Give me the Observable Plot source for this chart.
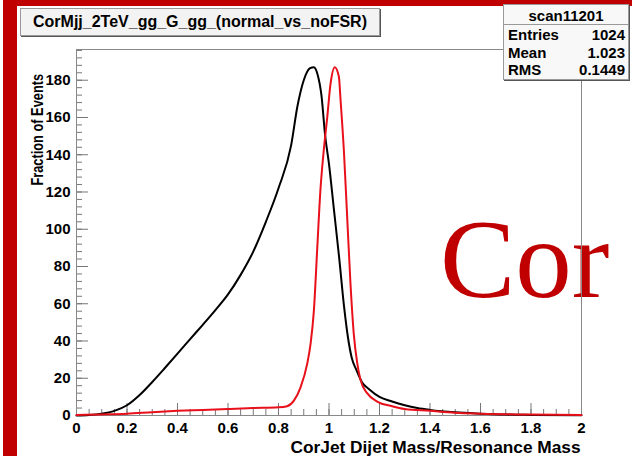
<!DOCTYPE html>
<html>
<head>
<meta charset="utf-8">
<script src="https://cdn.jsdelivr.net/npm/d3@7"></script>
<script src="https://cdn.jsdelivr.net/npm/@observablehq/plot@0.6"></script>
<style>
  body { margin: 0; background: white; }
  #wrap { position: relative; width: 632px; height: 456px; background: white; overflow: hidden; font-family: "Liberation Sans", Arial, sans-serif; }
  #chart { position: absolute; left: 0; top: 0; }
  .cor { position: absolute; left: 440px; top: 202px; font-family: "Liberation Serif", "Times New Roman", serif; font-size: 113px; color: #c00000; line-height: 1; }
  .redv { position: absolute; left: 3px; top: 0; width: 14px; height: 456px; background: #c00000; }
  .redh { position: absolute; left: 3px; top: 0; width: 629px; height: 6px; background: #c00000; }
  .tbox { position: absolute; left: 20px; top: 8px; width: 358px; height: 26px; background: #f3f3f3; border: 1px solid #999; box-shadow: 1px 1px 0 #555; font-weight: bold; font-size: 16px; text-align: center; line-height: 26px; }
  .sbox { position: absolute; left: 503px; top: 4px; width: 124px; height: 74px; background: #f8f8f8; border: 1px solid #999; box-shadow: 1px 1px 0 #555; font-weight: bold; font-size: 15px; }
  .sbox .hd { text-align: center; height: 19px; line-height: 22px; border-bottom: 1px solid #999; }
  .sbox .row { display: flex; justify-content: space-between; padding: 0 3px 0 4px; height: 17.5px; line-height: 19px; }
  .xt { position: absolute; right: 51px; top: 440px; font-weight: bold; font-size: 16px; line-height: 16px; white-space: nowrap; transform-origin: 100% 0; transform: scaleX(1.08); }
  .yt { position: absolute; left: 29px; top: 46px; font-weight: bold; font-size: 16px; white-space: nowrap; transform-origin: 0 0; transform: rotate(-90deg) translate(-100%, 0) scaleX(0.8); }
</style>
</head>
<body>
<div id="wrap">
  <div class="cor">Cor</div>
  <div id="chart"></div>
  <div class="redv"></div>
  <div class="redh"></div>
  <div class="tbox">CorMjj_2TeV_gg_G_gg_(normal_vs_noFSR)</div>
  <div class="sbox">
    <div class="hd">scan11201</div>
    <div class="row"><span>Entries</span><span>1024</span></div>
    <div class="row"><span>Mean</span><span>1.023</span></div>
    <div class="row"><span>RMS</span><span>0.1449</span></div>
  </div>
  <div class="xt">CorJet Dijet Mass/Resonance Mass</div>
  <div class="yt">Fraction of Events</div>
</div>
<script>
// Tick values / labels
const xTicks = [0, 0.2, 0.4, 0.6, 0.8, 1, 1.2, 1.4, 1.6, 1.8, 2];
const xTickLabels = ["0", "0.2", "0.4", "0.6", "0.8", "1", "1.2", "1.4", "1.6", "1.8", "2"];
const yTicks = [0, 20, 40, 60, 80, 100, 120, 140, 160, 180];
const yTickLabels = ["0", "20", "40", "60", "80", "100", "120", "140", "160", "180"];

// Series "normal" (black)
const normalX = [0, 0.05, 0.1, 0.15, 0.2, 0.25, 0.3, 0.35, 0.4, 0.45, 0.5, 0.55, 0.6, 0.65, 0.7, 0.75, 0.8, 0.85, 0.875, 0.9, 0.925, 0.94, 0.955, 0.97, 0.985, 1.0, 1.02, 1.04, 1.06, 1.075, 1.09, 1.11, 1.13, 1.16, 1.2, 1.25, 1.3, 1.35, 1.4, 1.5, 1.6, 1.7, 1.8, 2.0];
const normalY = [0, 0.3, 1, 2.5, 5.5, 11, 18, 25.5, 33.2, 41, 48.7, 56.6, 65, 75.5, 88, 104, 122, 145, 166, 180, 186.5, 187, 183, 172, 150, 135, 110, 85, 58, 42, 31, 24, 18, 14, 10, 7.5, 5.5, 4, 3, 1.7, 1, 0.5, 0.3, 0.1];

// Series "noFSR" (red)
const nofsrX = [0, 0.1, 0.2, 0.3, 0.4, 0.5, 0.6, 0.7, 0.8, 0.834, 0.861, 0.887, 0.914, 0.927, 0.94, 0.953, 0.966, 0.979, 0.993, 1.006, 1.023, 1.039, 1.046, 1.059, 1.072, 1.085, 1.098, 1.112, 1.125, 1.151, 1.191, 1.25, 1.3, 1.4, 1.5, 1.6, 1.8, 2.0];
const nofsrY = [0.3, 0.6, 1, 1.8, 2.5, 3, 3.5, 4, 4.4, 5, 8, 15, 28, 38.5, 56, 88.6, 121, 142, 160, 178, 187, 182, 169, 142, 106.5, 71, 44, 28, 19, 12, 7.5, 5, 3.5, 2.5, 1.5, 1, 0.5, 0.3];

const normal = normalX.map((x, i) => ({x, y: normalY[i]}));
const nofsr = nofsrX.map((x, i) => ({x, y: nofsrY[i]}));

const xMinor = d3.range(0, 41).map(i => i * 0.05);
const yMinor = d3.range(0, 50).map(i => i * 4);

const W = 632, H = 456, mL = 76, mR = 51, mT = 49, mB = 41;
const pw = W - mL - mR, ph = H - mT - mB;

const tickStyle = {stroke: "#777", strokeWidth: 1};

const chart = Plot.plot({
  width: W, height: H,
  marginLeft: mL, marginRight: mR, marginTop: mT, marginBottom: mB,
  style: {background: "transparent", fontFamily: "'Liberation Sans', Arial, sans-serif", color: "black"},
  x: {domain: [0, 2]},
  y: {domain: [0, 196.5]},
  marks: [
    // inward minor & major ticks (bottom)
    Plot.ruleX(xMinor, {x: d => d, insetTop: ph - 6, ...tickStyle}),
    Plot.ruleX(xTicks, {x: d => d, insetTop: ph - 12, ...tickStyle}),
    // inward minor & major ticks (left)
    Plot.ruleY(yMinor.filter(v => v <= 196), {y: d => d, insetRight: pw - 6, ...tickStyle}),
    Plot.ruleY(yTicks, {y: d => d, insetRight: pw - 12, ...tickStyle}),
    Plot.axisX(xTicks, {tickSize: 0, tickPadding: 7, tickFormat: (d) => xTickLabels[xTicks.indexOf(d)], fontSize: 15, fontWeight: "bold", label: null}),
    Plot.axisY(yTicks, {tickSize: 0, tickPadding: 6, tickFormat: (d) => yTickLabels[yTicks.indexOf(d)], fontSize: 15, fontWeight: "bold", label: null}),
    Plot.frame({stroke: "#888"}),
    Plot.line(normal, {x: "x", y: "y", stroke: "black", strokeWidth: 2, curve: "monotone-x"}),
    Plot.line(nofsr, {x: "x", y: "y", stroke: "#e8101a", strokeWidth: 2, curve: "monotone-x"})
  ]
});
document.getElementById("chart").appendChild(chart);
</script>
</body>
</html>
